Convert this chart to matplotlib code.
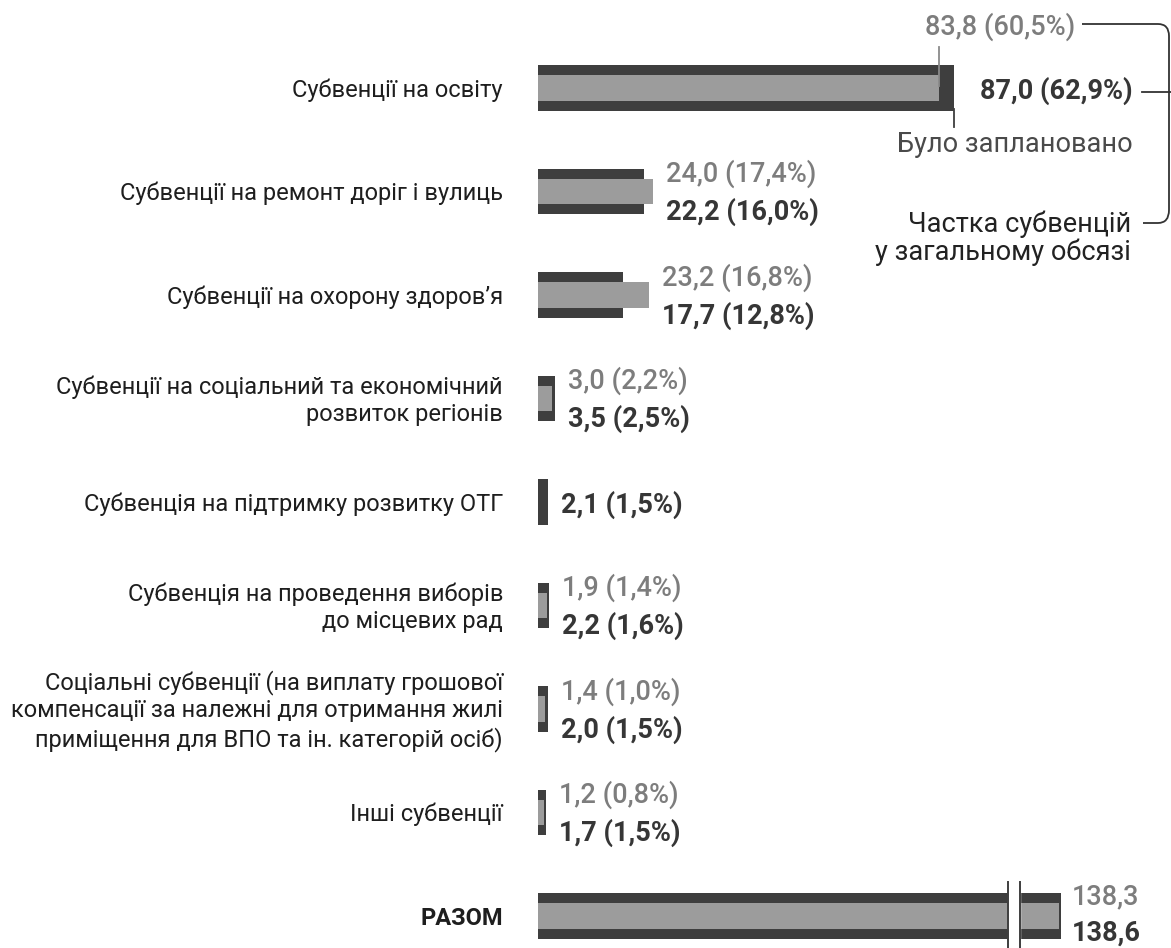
import matplotlib.pyplot as plt
import matplotlib.patches as mpatches
from matplotlib.path import Path
import numpy as np

plt.rcParams['font.family'] = ['Roboto', 'DejaVu Sans']

# subventions, bn UAH
categories = [
    "Субвенції на освіту",
    "Субвенції на ремонт доріг і вулиць",
    "Субвенції на охорону здоров’я",
    "Субвенції на соціальний та економічний\nрозвиток регіонів",
    "Субвенція на підтримку розвитку ОТГ",
    "Субвенція на проведення виборів\nдо місцевих рад",
    "Соціальні субвенції (на виплату грошової\nкомпенсації за належні для отримання жилі\nприміщення для ВПО та ін. категорій осіб)",
    "Інші субвенції",
    "РАЗОМ",
]
dark_vals = [87.0, 22.2, 17.7, 3.5, 2.1, 2.2, 2.0, 1.7, 138.6]
dark_share = ["62,9", "16,0", "12,8", "2,5", "1,5", "1,6", "1,5", "1,5", None]
gray_vals = [83.8, 24.0, 23.2, 3.0, None, 1.9, 1.4, 1.2, 138.3]
gray_share = ["60,5", "17,4", "16,8", "2,2", None, "1,4", "1,0", "0,8", None]

DARK = "#3e3e3e"
GRAY = "#9c9c9c"
GRAY_TXT = "#7d7d7d"
DARK_TXT = "#363636"

W, H = 1171, 948
PX = 4.78          # pixels per bn
X0 = 538           # bar origin, px
ROW0, STEP = 88, 103.5
VAL_FS = 19.5
CAT_FS = 17

# broken axis for the total row
BREAK_LO, BREAK_HI, SKIP = 98.3, 100.8, 29.2


def squash(v):
    return v if v < BREAK_LO else v - SKIP


def fmt(v):
    return ("%.1f" % v).replace(".", ",")


fig = plt.figure(figsize=(W / 100, H / 100), dpi=100)
ax = fig.add_axes([X0 / W, 0, 1 - X0 / W, 1])
ax.set_xlim(0, (W - X0) / PX)
ax.set_ylim((H - ROW0) / STEP, -ROW0 / STEP)
ax.axis("off")

rows = np.arange(len(categories))
dv = [squash(v) for v in dark_vals]
gv = [squash(v) if v is not None else np.nan for v in gray_vals]

ax.barh(rows, dv, height=0.44, color=DARK, zorder=2)
ax.barh(rows, gv, height=0.25, color=GRAY, zorder=3)

# category labels
for i, name in enumerate(categories):
    bold = name == "РАЗОМ"
    ax.text(-35 / PX, i + 0.02, name, ha="right", va="center", ma="right",
            fontsize=CAT_FS, color="#1e1e1e", linespacing=1.22,
            fontweight="bold" if bold else "normal")

# value labels
last = len(categories) - 1
for i in range(1, len(categories)):
    ends = [dv[i]] + ([gv[i]] if not np.isnan(gv[i]) else [])
    lx = max(ends) + (11 if i == last else 13) / PX
    if gray_vals[i] is None:
        ax.text(lx, i + 0.03, "%s (%s%%)" % (fmt(dark_vals[i]), dark_share[i]),
                ha="left", va="center", fontsize=VAL_FS, fontweight="bold", color=DARK_TXT)
        continue
    g = fmt(gray_vals[i]) if gray_share[i] is None else "%s (%s%%)" % (fmt(gray_vals[i]), gray_share[i])
    d = fmt(dark_vals[i]) if dark_share[i] is None else "%s (%s%%)" % (fmt(dark_vals[i]), dark_share[i])
    up, down = (-0.19, 0.17) if i == last else (-0.17, 0.2)
    ax.text(lx, i + up, g, ha="left", va="center", fontsize=VAL_FS,
            fontweight="medium", color=GRAY_TXT)
    ax.text(lx, i + down, d, ha="left", va="center", fontsize=VAL_FS,
            fontweight="bold", color=DARK_TXT)

# education row: labels with leaders
ax.text(112.3, -0.59, "%s (%s%%)" % (fmt(gray_vals[0]), gray_share[0]), ha="right",
        va="center", fontsize=VAL_FS, fontweight="medium", color=GRAY_TXT)
ax.plot([gray_vals[0], gray_vals[0]], [-0.40, -0.02], color="#8a8a8a", lw=1.3, zorder=4)
ax.text(dark_vals[0] + 5.5, 0.03, "%s (%s%%)" % (fmt(dark_vals[0]), dark_share[0]),
        ha="left", va="center", fontsize=VAL_FS, fontweight="bold", color=DARK_TXT)
ax.plot([dark_vals[0], dark_vals[0]], [0.2, 0.38], color=DARK, lw=1.3, zorder=4)
ax.text(124.3, 0.55, "Було заплановано", ha="right", va="center",
        fontsize=19.5, color="#4a4a4a")
ax.text(124.1, 1.45, "Частка субвенцій\nу загальному обсязі", ha="right", va="center",
        ma="right", fontsize=19.5, color="#222222", linespacing=1.05)

# axis break on the total row
ax.fill_betweenx([last - 0.3, last + 0.3], BREAK_LO, BREAK_HI, color="white", zorder=5)
for xb in (BREAK_LO, BREAK_HI):
    ax.plot([xb, xb], [last - 0.33, last + 0.33], color=DARK, lw=1.4, zorder=6)


# bracket on the right, drawn in pixel space
def fp(x, y):
    return (x / W, 1 - y / H)


verts = [fp(1082, 24), fp(1158, 24), fp(1169, 24), fp(1169, 36),
         fp(1169, 210), fp(1169, 223), fp(1158, 223), fp(1143, 223)]
codes = [Path.MOVETO, Path.LINETO, Path.CURVE3, Path.CURVE3,
         Path.LINETO, Path.CURVE3, Path.CURVE3, Path.LINETO]
fig.add_artist(mpatches.PathPatch(Path(verts, codes), fill=False, lw=1.3,
                                  edgecolor="#333333", transform=fig.transFigure))
fig.add_artist(plt.Line2D([1142 / W, 1.0], [1 - 92 / H] * 2, lw=1.3,
                          color="#333333", transform=fig.transFigure))

fig.savefig("out.png", dpi=100)
